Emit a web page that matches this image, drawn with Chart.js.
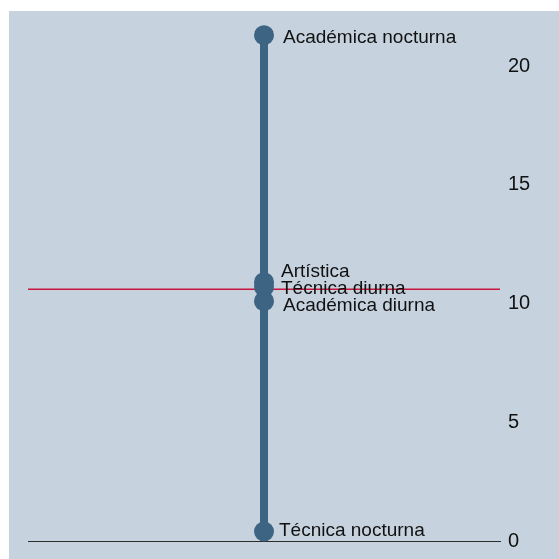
<!DOCTYPE html>
<html>
<head>
<meta charset="utf-8">
<script src="https://cdn.jsdelivr.net/npm/chart.js@4"></script>
<style>
  html, body { margin: 0; padding: 0; background: #ffffff; }
  #wrap { position: absolute; left: 9px; top: 11px; width: 550px; height: 548px; background: #c6d3df; }
  canvas { display: block; }
</style>
</head>
<body>
<div id="wrap"><canvas id="c" width="550" height="548"></canvas></div>
<script>
// ---- data ----
const categories = ["Académica nocturna", "Artística", "Técnica diurna", "Académica diurna", "Técnica nocturna"];
const values = [21.3, 10.9, 10.7, 10.1, 0.4];
const meanValue = 10.6;
const yTicks = [0, 5, 10, 15, 20];

// label placement offsets (style only)
const labelStyle = {
  dx: [19, 17, 17, 19, 15],
  dy: [3, -10, 2, 5, -1]
};

const stickColor = '#3d6482';
const font = "'Liberation Sans', Arial, sans-serif";

const labelPlugin = {
  id: 'pointLabels',
  afterDatasetsDraw(chart) {
    const ctx = chart.ctx;
    const xs = chart.scales.x, ys = chart.scales.y;
    ctx.save();
    ctx.font = "19px " + font;
    ctx.fillStyle = '#111111';
    ctx.textAlign = 'left';
    ctx.textBaseline = 'middle';
    categories.forEach((name, i) => {
      const px = xs.getPixelForValue(0) + labelStyle.dx[i];
      const py = ys.getPixelForValue(values[i]) + labelStyle.dy[i];
      ctx.fillText(name, px, py);
    });
    ctx.restore();
  }
};

const vmin = Math.min(...values), vmax = Math.max(...values);

new Chart(document.getElementById('c'), {
  type: 'line',
  data: {
    datasets: [
      {
        label: 'points',
        data: values.map(v => ({ x: 0, y: v })),
        showLine: false,
        clip: false,
        pointRadius: 10,
        pointHoverRadius: 10,
        pointBackgroundColor: stickColor,
        pointBorderColor: stickColor,
        pointBorderWidth: 0
      },
      {
        label: 'stick',
        data: [{ x: 0, y: vmin }, { x: 0, y: vmax }],
        borderColor: stickColor,
        borderWidth: 8,
        pointRadius: 0
      },
      {
        label: 'mean',
        data: [{ x: -1, y: meanValue }, { x: 1, y: meanValue }],
        borderColor: '#c8163f',
        borderWidth: 1.5,
        pointRadius: 0
      }
    ]
  },
  options: {
    responsive: false,
    animation: false,
    events: [],
    layout: { autoPadding: false, padding: { left: 19, top: 7.5, right: 0, bottom: 18 } },
    plugins: { legend: { display: false }, tooltip: { enabled: false } },
    scales: {
      x: {
        type: 'linear',
        min: -1, max: 1,
        afterFit: (s) => { s.height = 0; s.paddingLeft = 0; s.paddingRight = 0; },
        ticks: { display: false },
        grid: { display: false },
        border: { display: true, color: '#2b2b2b', width: 1 }
      },
      y: {
        type: 'linear',
        position: 'right',
        min: 0, max: 22,
        afterBuildTicks: (s) => { s.ticks = yTicks.map(v => ({ value: v })); },
        afterFit: (s) => { s.width = 59; s.paddingTop = 0; s.paddingBottom = 0; },
        ticks: {
          color: '#111111',
          font: { family: font, size: 20 },
          padding: 8,
          crossAlign: 'near'
        },
        grid: { display: false, drawTicks: false },
        border: { display: false }
      }
    }
  },
  plugins: [labelPlugin]
});
</script>
</body>
</html>
